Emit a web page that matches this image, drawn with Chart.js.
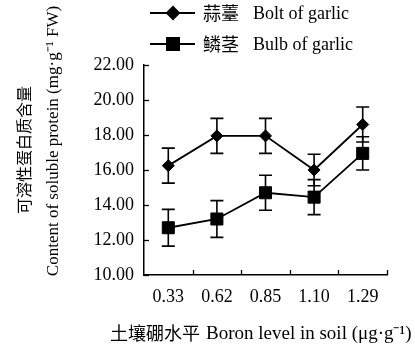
<!DOCTYPE html>
<html>
<head>
<meta charset="utf-8">
<script src="https://cdn.jsdelivr.net/npm/chart.js@4"></script>
<style>
html,body{margin:0;padding:0;background:#fff;}
#wrap{width:415px;height:349px;position:relative;}
</style>
</head>
<body>
<div id="wrap"><canvas id="c" width="415" height="349"></canvas></div>
<script>
const categories = ['0.33', '0.62', '0.85', '1.10', '1.29'];
const boltValues = [16.25, 17.95, 17.95, 16.0, 18.6];
const boltErrors = [1.0, 1.0, 1.0, 0.9, 1.0];
const bulbValues = [12.7, 13.2, 14.7, 14.45, 16.95];
const bulbErrors = [1.05, 1.05, 1.0, 1.0, 0.95];
const yTicks = [10, 12, 14, 16, 18, 20, 22];
const seriesCN = ['蒜薹', '鳞茎'];
const seriesEN = ['Bolt of garlic', 'Bulb of garlic'];
const yTitleCN = '可溶性蛋白质含量';
const yTitleEN = 'Content of soluble protein (mg·g⁻¹ FW)';
const xTitleCN = '土壤硼水平';
const xTitleEN = 'Boron level in soil (μg·g⁻¹)';

const SERIF = '"Liberation Serif", "Times New Roman", serif';
const CJK = '"Noto Sans CJK SC", sans-serif';

const errorBars = {
  id: 'errorBars',
  afterDatasetsDraw(chart) {
    const ctx = chart.ctx;
    const y = chart.scales.y;
    ctx.save();
    ctx.strokeStyle = '#000';
    ctx.lineWidth = 1.6;
    chart.data.datasets.forEach((ds, di) => {
      const meta = chart.getDatasetMeta(di);
      ds.errors.forEach((e, i) => {
        const px = meta.data[i].x;
        const v = ds.data[i];
        const top = y.getPixelForValue(v + e);
        const bot = y.getPixelForValue(v - e);
        ctx.beginPath();
        ctx.moveTo(px, top); ctx.lineTo(px, bot);
        ctx.moveTo(px - 6.5, top); ctx.lineTo(px + 6.5, top);
        ctx.moveTo(px - 6.5, bot); ctx.lineTo(px + 6.5, bot);
        ctx.stroke();
      });
    });
    ctx.restore();
  }
};

const decorations = {
  id: 'decorations',
  afterDraw(chart) {
    const ctx = chart.ctx;
    const area = chart.chartArea;
    const xs = chart.scales.x, ys = chart.scales.y;
    ctx.save();
    ctx.strokeStyle = '#000';
    ctx.lineWidth = 1.3;
    yTicks.forEach(t => {
      const py = Math.round(ys.getPixelForValue(t)) + 0.5;
      ctx.beginPath(); ctx.moveTo(area.left, py); ctx.lineTo(area.left + 5, py); ctx.stroke();
    });
    for (let i = 0; i < categories.length; i++) {
      let px;
      if (i < categories.length - 1) px = (xs.getPixelForValue(i) + xs.getPixelForValue(i + 1)) / 2;
      else px = area.right;
      px = Math.round(px) + 0.5;
      ctx.beginPath(); ctx.moveTo(px, area.bottom); ctx.lineTo(px, area.bottom - 5); ctx.stroke();
    }
    const rows = [13, 44];
    const styles = ['rectRot', 'rect'];
    const radii = [6, 8.5];
    rows.forEach((ry, i) => {
      ctx.lineWidth = 2;
      ctx.beginPath(); ctx.moveTo(150, ry); ctx.lineTo(195, ry); ctx.stroke();
      ctx.fillStyle = '#000';
      Chart.helpers.drawPoint(ctx, {pointStyle: styles[i], radius: radii[i], borderWidth: 1}, 173, ry);
      ctx.fill();
      ctx.textBaseline = 'middle';
      ctx.textAlign = 'left';
      ctx.font = '18px ' + CJK;
      ctx.fillText(seriesCN[i], 203, ry);
      ctx.font = '18px ' + SERIF;
      ctx.fillText(seriesEN[i], 253, ry + 1);
    });
    ctx.save();
    ctx.translate(24, 150);
    ctx.rotate(-Math.PI / 2);
    ctx.textAlign = 'center';
    ctx.textBaseline = 'middle';
    ctx.font = '16px ' + CJK;
    ctx.fillText(yTitleCN, 0, 0);
    ctx.restore();
    ctx.save();
    ctx.translate(54, 141);
    ctx.rotate(-Math.PI / 2);
    ctx.textAlign = 'center';
    ctx.textBaseline = 'middle';
    ctx.font = '17px ' + SERIF;
    ctx.fillText(yTitleEN, 0, 0);
    ctx.restore();
    ctx.textBaseline = 'middle';
    ctx.textAlign = 'left';
    ctx.font = '18px ' + CJK;
    ctx.fillText(xTitleCN, 110, 333);
    ctx.font = '19px ' + SERIF;
    ctx.fillText(xTitleEN, 206, 334);
    ctx.restore();
  }
};

new Chart(document.getElementById('c'), {
  type: 'line',
  data: {
    labels: categories,
    datasets: [
      {label: seriesEN[0], data: boltValues, errors: boltErrors,
       borderColor: '#000', backgroundColor: '#000', borderWidth: 1.8,
       pointStyle: 'rectRot', pointRadius: 6, pointBorderWidth: 1, tension: 0},
      {label: seriesEN[1], data: bulbValues, errors: bulbErrors,
       borderColor: '#000', backgroundColor: '#000', borderWidth: 1.8,
       pointStyle: 'rect', pointRadius: 8.5, pointBorderWidth: 1, tension: 0}
    ]
  },
  options: {
    responsive: false,
    animation: false,
    devicePixelRatio: 1,
    layout: {padding: {top: 65, right: 28, left: 0, bottom: 0}},
    plugins: {legend: {display: false}, tooltip: {enabled: false}},
    scales: {
      x: {
        offset: true,
        grid: {display: false, drawTicks: false},
        border: {display: true, color: '#000', width: 1.5},
        ticks: {color: '#000', font: {family: SERIF, size: 18}, padding: 11, maxRotation: 0},
        afterFit(s) { s.height = 74; }
      },
      y: {
        min: 10, max: 22,
        afterBuildTicks(s) { s.ticks = yTicks.map(v => ({value: v})); },
        grid: {display: false, drawTicks: false},
        border: {display: true, color: '#000', width: 1.5},
        ticks: {color: '#000', font: {family: SERIF, size: 18}, padding: 10,
                callback: v => Number(v).toFixed(2)},
        afterFit(s) { s.width = 144; }
      }
    }
  },
  plugins: [errorBars, decorations]
});
</script>
</body>
</html>
